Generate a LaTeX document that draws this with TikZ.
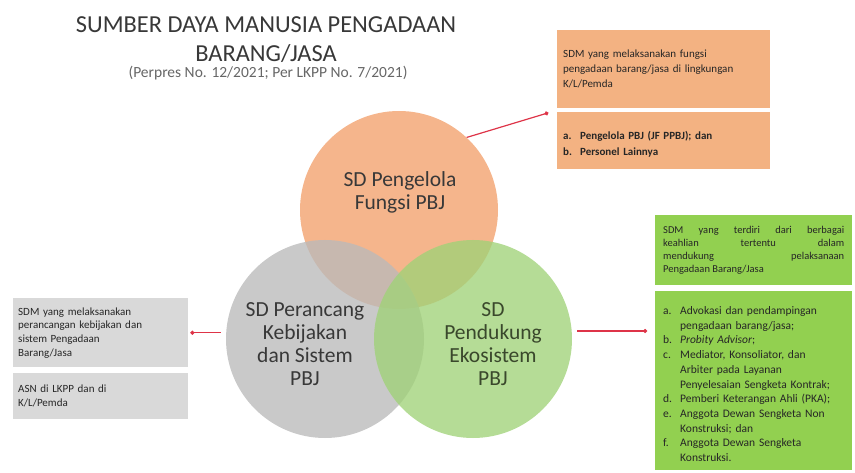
\documentclass[tikz,border=0pt]{standalone}
\usepackage{fontspec}
\setmainfont{Carlito}
\usetikzlibrary{positioning,arrows.meta,calc}

\definecolor{oranyeSD}{RGB}{242,160,108}
\definecolor{abuSD}{RGB}{186,186,186}
\definecolor{hijauSD}{RGB}{160,210,120}
\definecolor{oranyeKotak}{RGB}{243,178,130}
\definecolor{abuKotak}{RGB}{217,217,217}
\definecolor{hijauKotak}{RGB}{146,208,80}
\definecolor{merahPanah}{RGB}{222,52,72}
\definecolor{teksHijau}{RGB}{58,72,44}

\newcommand{\butir}[2]{\par\hangindent=17pt\hangafter=1\noindent\makebox[17pt][l]{#1}#2}

\begin{document}
\begin{tikzpicture}[x=1pt, y=-1pt,
    lingkaran/.style={circle, minimum size=198pt, inner sep=0pt, draw=none, fill opacity=0.78},
    labelSD/.style={align=center, font=\fontsize{21.5}{23}\selectfont},
    kotak/.style={rectangle, anchor=north west, inner xsep=6pt, inner ysep=0pt, text width=#1, align=left, font=\fontsize{11}{15}\selectfont, text=black!85},
    panah/.style={draw=merahPanah, line width=1.2pt, -{Circle[length=4pt]}}]
    \useasboundingbox (0,0) rectangle (855,473);

    % judul
    \node (Judul) at (266,40) [align=center, text=black!78, font=\fontsize{24.4}{29}\selectfont] {SUMBER DAYA MANUSIA PENGADAAN\\BARANG/JASA};
    \node (Dasar) at (268,73) [text=black!60, font=\fontsize{15.5}{17}\selectfont] {(Perpres No. 12/2021; Per LKPP No. 7/2021)};

    % lingkaran
    \node (Pengelola) at (399,210) [lingkaran, fill=oranyeSD] {};
    \node (Perancang) at (325,339) [lingkaran, fill=abuSD] {};
    \node (Pendukung) at (473,339) [lingkaran, fill=hijauSD] {};

    \node (PengelolaLabel) at (400,192) [labelSD, text=black!78] {SD Pengelola\\Fungsi PBJ};
    \node (PerancangLabel) at (305,344) [labelSD, text=black!78] {SD Perancang\\Kebijakan\\dan Sistem\\PBJ};
    \node (PendukungLabel) at (493,344) [labelSD, text=teksHijau] {SD\\Pendukung\\Ekosistem\\PBJ};

    % kotak pengelola
    \node (PengelolaDesc) at (557,30) [kotak=201pt, fill=oranyeKotak, minimum height=78pt] {SDM yang melaksanakan fungsi\\pengadaan barang/jasa di lingkungan\\K/L/Pemda};
    \node (PengelolaList) at (557,112) [kotak=201pt, fill=oranyeKotak, minimum height=57pt, font=\fontsize{11}{15.5}\selectfont\bfseries] {\butir{a.}{Pengelola PBJ (JF PPBJ); dan}\butir{b.}{Personel Lainnya}\par};

    % kotak perancang
    \node (PerancangDesc) at (13,298) [kotak=165pt, inner xsep=5pt, fill=abuKotak, minimum height=69pt, font=\fontsize{11}{13.7}\selectfont] {SDM yang melaksanakan\\perancangan kebijakan dan\\sistem Pengadaan\\Barang/Jasa};
    \node (PerancangList) at (13,373) [kotak=165pt, inner xsep=5pt, fill=abuKotak, minimum height=46pt, font=\fontsize{11}{13.7}\selectfont] {ASN di LKPP dan di\\K/L/Pemda};

    % kotak pendukung
    \node (PendukungDesc) at (655,215) [kotak=181pt, inner xsep=8pt, fill=hijauKotak, minimum height=70pt, align=justify, font=\fontsize{10.5}{13}\selectfont] {SDM yang terdiri dari berbagai\linebreak keahlian tertentu dalam\linebreak mendukung pelaksanaan\linebreak Pengadaan Barang/Jasa};
    \node (PendukungList) at (655,291) [kotak=181pt, inner xsep=8pt, fill=hijauKotak, minimum height=179pt, font=\fontsize{11.5}{14.7}\selectfont] {\butir{a.}{Advokasi dan pendampingan\newline pengadaan barang/jasa;}\butir{b.}{\textit{Probity Advisor};}\butir{c.}{Mediator, Konsoliator, dan\newline Arbiter pada Layanan\newline Penyelesaian Sengketa Kontrak;}\butir{d.}{Pemberi Keterangan Ahli (PKA);}\butir{e.}{Anggota Dewan Sengketa Non\newline Konstruksi; dan}\butir{f.}{Anggota Dewan Sengketa\newline Konstruksi.}\par};

    % panah
    \coordinate (CelahOranye) at ($(PengelolaDesc.south west)!0.5!(PengelolaList.north west)$);
    \draw[panah, shorten >=9pt] (Pengelola.47) -- (CelahOranye);
    \draw[panah, shorten <=5pt, shorten >=2pt] (Perancang.west |- PerancangDesc.east) -- (PerancangDesc.east);
    \draw[panah, shorten <=5pt, shorten >=8pt] ([yshift=8pt]Pendukung.east) -- ([yshift=8pt]Pendukung.east -| PendukungList.west);
\end{tikzpicture}
\end{document}
